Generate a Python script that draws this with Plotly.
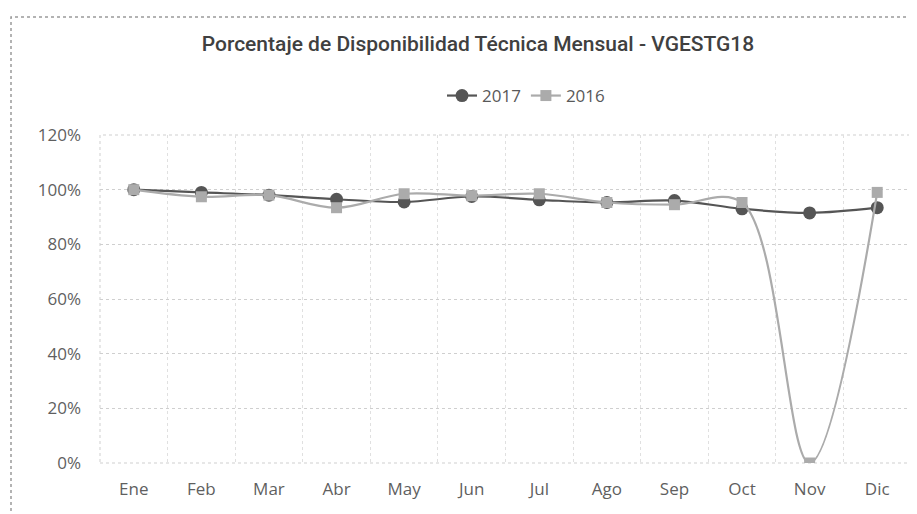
import plotly.graph_objects as go

months = ["Ene", "Feb", "Mar", "Abr", "May", "Jun", "Jul", "Ago", "Sep", "Oct", "Nov", "Dic"]
v2017 = [1.00, 0.99, 0.98, 0.965, 0.955, 0.975, 0.963, 0.953, 0.96, 0.93, 0.915, 0.934]
v2016 = [1.00, 0.974, 0.98, 0.934, 0.985, 0.978, 0.985, 0.953, 0.945, 0.953, 0.0, 0.99]
y_ticks = [0, 0.2, 0.4, 0.6, 0.8, 1.0, 1.2]

fig = go.Figure()
fig.add_trace(go.Scatter(
    x=months, y=v2017, name="2017", mode="lines+markers",
    line=dict(color="#555555", width=2.2, shape="spline", smoothing=1.0),
    marker=dict(symbol="circle", size=13, color="#555555"),
))
fig.add_trace(go.Scatter(
    x=months, y=v2016, name="2016", mode="lines+markers",
    line=dict(color="#ababab", width=2.2, shape="spline", smoothing=1.0),
    marker=dict(symbol="square", size=11, color="#ababab"),
))

# page body has an 8px margin: work in screen pixels and convert
O = 8
W, H = 917 - O, 514 - O
L, R, T, B = 100 - O, 917 - 911, 135 - O, 514 - 463
pw, ph = W - L - R, H - T - B
def px(x): return (x - O - L) / pw
def py(y): return (H - B - (y - O)) / ph

fig.update_layout(
    width=W, height=H,
    margin=dict(l=L, r=R, t=T, b=B),
    paper_bgcolor="white", plot_bgcolor="white",
    font=dict(family="Open Sans, sans-serif", color="#5f5f5f", size=17),
    title=dict(text="Porcentaje de Disponibilidad Técnica Mensual - VGESTG18",
               x=px(478), xanchor="center", xref="paper", y=1 - (44 - O) / H, yanchor="middle",
               font=dict(family="Roboto, sans-serif", size=21, color="#404040", weight=500)),
    legend=dict(orientation="h", x=px(526), xanchor="center", y=py(96), yanchor="middle",
                font=dict(size=17, color="#595959"), itemwidth=30),
    showlegend=True,
    xaxis=dict(showgrid=True, gridcolor="#e0e0e0", griddash="dot", tickson="boundaries",
               ticks="", showline=False, zeroline=False, range=[-0.5, 11.5],
               ticklabelstandoff=14),
    yaxis=dict(range=[0, 1.2], tickvals=y_ticks, tickformat=".0%", showgrid=True,
               gridcolor="#cfcfcf", griddash="dot", zeroline=False, ticks="",
               showline=False, ticklabelstandoff=18),
    shapes=[
        dict(type="rect", xref="paper", yref="paper", x0=px(11), x1=px(914), y0=py(540), y1=py(17),
             line=dict(color="#9a9a9a", width=1.5, dash="dot"), layer="below"),
        dict(type="rect", xref="paper", yref="paper", x0=0, x1=1, y0=0, y1=1,
             line=dict(color="#cfcfcf", width=1, dash="dot"), layer="below"),
    ],
)

fig.write_html("out.html")
